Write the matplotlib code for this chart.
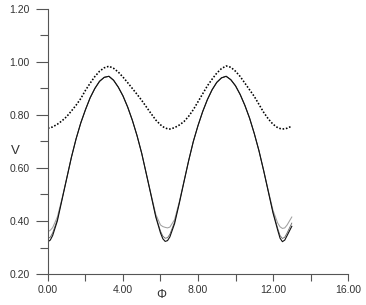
import matplotlib
matplotlib.use("Agg")
import matplotlib.pyplot as plt
from matplotlib.ticker import MultipleLocator, FormatStrFormatter

plt.rcParams['font.family'] = ['Liberation Sans', 'DejaVu Sans']

phi = [0.0, 0.125, 0.25, 0.5, 0.75, 1.0, 1.25, 1.5, 1.75, 2.0, 2.25, 2.5, 2.75, 3.0, 3.25,
       3.5, 3.75, 4.0, 4.25, 4.5, 4.75, 5.0, 5.25, 5.5, 5.75, 6.0, 6.125, 6.25, 6.375,
       6.5, 6.75, 7.0, 7.25, 7.5, 7.75, 8.0, 8.25, 8.5, 8.75, 9.0, 9.25, 9.5, 9.75, 10.0,
       10.25, 10.5, 10.75, 11.0, 11.25, 11.5, 11.75, 12.0, 12.25, 12.375, 12.5, 12.625,
       12.75, 13.0]

v_dotted = [0.750, 0.752, 0.755, 0.765, 0.778, 0.794, 0.815, 0.837, 0.862, 0.893, 0.920,
            0.945, 0.965, 0.978, 0.984, 0.976, 0.962, 0.943, 0.922, 0.900, 0.878, 0.855,
            0.830, 0.805, 0.781, 0.763, 0.756, 0.751, 0.748, 0.747, 0.752, 0.762, 0.775,
            0.795, 0.820, 0.850, 0.880, 0.910, 0.935, 0.958, 0.975, 0.985, 0.980, 0.965,
            0.945, 0.920, 0.895, 0.870, 0.840, 0.810, 0.785, 0.765, 0.752, 0.749, 0.747,
            0.748, 0.750, 0.758]

v_black = [0.322, 0.328, 0.345, 0.400, 0.480, 0.560, 0.640, 0.710, 0.770, 0.820, 0.865,
           0.900, 0.927, 0.942, 0.946, 0.931, 0.905, 0.872, 0.830, 0.780, 0.722, 0.655,
           0.576, 0.496, 0.415, 0.355, 0.333, 0.323, 0.326, 0.340, 0.390, 0.466, 0.547,
           0.627, 0.700, 0.760, 0.813, 0.858, 0.895, 0.923, 0.940, 0.946, 0.933, 0.910,
           0.877, 0.836, 0.788, 0.730, 0.665, 0.590, 0.510, 0.430, 0.365, 0.335, 0.322,
           0.328, 0.345, 0.380]

v_mid = [0.334, 0.339, 0.355, 0.405, 0.482, 0.561, 0.640, 0.710, 0.770, 0.820, 0.865,
         0.900, 0.927, 0.942, 0.946, 0.931, 0.905, 0.872, 0.830, 0.780, 0.722, 0.655,
         0.576, 0.497, 0.418, 0.362, 0.343, 0.335, 0.337, 0.350, 0.396, 0.468, 0.548,
         0.627, 0.700, 0.760, 0.813, 0.858, 0.895, 0.923, 0.940, 0.946, 0.933, 0.910,
         0.877, 0.836, 0.788, 0.730, 0.665, 0.590, 0.511, 0.433, 0.372, 0.345, 0.334,
         0.339, 0.355, 0.392]

v_gray = [0.360, 0.365, 0.375, 0.415, 0.485, 0.562, 0.641, 0.710, 0.770, 0.820, 0.865,
          0.900, 0.927, 0.942, 0.946, 0.931, 0.905, 0.872, 0.830, 0.780, 0.722, 0.655,
          0.577, 0.500, 0.425, 0.385, 0.379, 0.376, 0.374, 0.377, 0.405, 0.472, 0.550,
          0.628, 0.700, 0.760, 0.813, 0.858, 0.895, 0.923, 0.940, 0.946, 0.933, 0.910,
          0.877, 0.836, 0.788, 0.730, 0.665, 0.591, 0.514, 0.440, 0.392, 0.378, 0.372,
          0.374, 0.385, 0.415]

x_major = [0, 4, 8, 12, 16]
y_major = [0.2, 0.4, 0.6, 0.8, 1.0, 1.2]

fig = plt.figure(figsize=(3.66, 3.05), dpi=100)
ax = fig.add_axes([0.131, 0.1016, 0.820, 0.869])

ax.plot(phi, v_gray, color='#a0a0a0', lw=0.75)
ax.plot(phi, v_mid, color='#666666', lw=0.6)
ax.plot(phi, v_black, color='#111111', lw=0.8)
ax.plot(phi, v_dotted, color='black', lw=1.15, linestyle=(0, (1.0, 1.1)))

ax.set_xlim(0, 16)
ax.set_ylim(0.2, 1.2)
ax.set_xticks(x_major)
ax.set_yticks(y_major)
ax.xaxis.set_minor_locator(MultipleLocator(2))
ax.yaxis.set_minor_locator(MultipleLocator(0.1))
ax.xaxis.set_major_formatter(FormatStrFormatter('%.2f'))
ax.yaxis.set_major_formatter(FormatStrFormatter('%.2f'))

for s in ['top', 'right']:
    ax.spines[s].set_visible(False)
for s in ['left', 'bottom']:
    ax.spines[s].set_color('#555555')
    ax.spines[s].set_linewidth(0.8)

ax.tick_params(axis='both', which='both', direction='out', colors='#555555',
               labelcolor='#333333', labelsize=7.5, width=0.8)
ax.tick_params(axis='y', which='major', length=9, pad=4)
ax.tick_params(axis='y', which='minor', length=6)
ax.tick_params(axis='x', which='major', length=5, pad=3)
ax.tick_params(axis='x', which='minor', length=5)

ax.set_xlabel('Φ', fontsize=9, color='#333333')
ax.xaxis.set_label_coords(0.377, -0.055)
ax.set_ylabel('V', fontsize=9.5, color='#333333', rotation=0)
ax.yaxis.set_label_coords(-0.11, 0.44)

fig.savefig('out.png', dpi=100)
